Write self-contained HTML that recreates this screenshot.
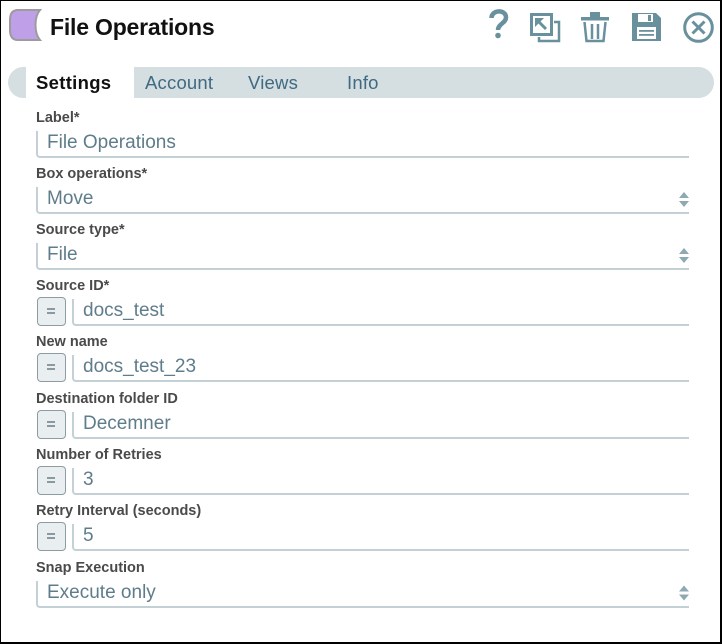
<!DOCTYPE html>
<html><head><meta charset="utf-8">
<style>
*{margin:0;padding:0;box-sizing:border-box}
html,body{width:722px;height:644px;background:#fff;overflow:hidden}
body{position:relative;font-family:"Liberation Sans",Arial,sans-serif}
#frame{position:absolute;left:0;top:0;width:722px;height:644px;border-top:1px solid #000;border-left:1px solid #000;border-right:2px solid #000;border-bottom:2px solid #000}
.abs{position:absolute;white-space:nowrap}
.title{left:50px;top:16px;font-size:23px;line-height:23px;font-weight:bold;color:#111;letter-spacing:-0.2px}
.tabbar{left:8px;top:67px;width:706px;height:31px;background:#d5dee1;border-radius:16px}
.tabsel{left:26px;top:67px;width:108px;height:31px;background:#fff}
.tab{top:74px;font-size:18.5px;line-height:18px;color:#3f6a82;letter-spacing:0.2px}
.lbl{font-size:14.5px;line-height:14.5px;font-weight:bold;color:#4a4a4a}
.inp{border-left:2px solid #c3d0d5;border-bottom:2px solid #c3d0d5;border-bottom-left-radius:4px;height:27px}
.val{font-size:19px;line-height:19px;color:#5f7c8a}
.eq{width:29px;height:29px;left:37px;background:#e9eff1;border:1.5px solid #8d9ca2;border-radius:4px}
.eq:before,.eq:after{content:"";position:absolute;left:9px;width:8px;height:1.5px;background:#8a999f}
.eq:before{top:10px}.eq:after{top:14px}
</style></head><body>
<div id="frame"></div>

<svg class="abs" style="left:0;top:0" width="722" height="60" viewBox="0 0 722 60">
  <path d="M18 10 L40 10 C34 17 34 33 40 40 L18 40 C12 40 10 36 10 30 L10 20 C10 14 12 10 18 10 Z" fill="#bf9fe8" stroke="#9c9c9c" stroke-width="2"/>
  <g fill="none" stroke="#68909d" stroke-width="4.5" stroke-linecap="butt">
    <path d="M491.5 18 C491.5 9.5 506 9 506 17.5 C506 23 498 24 498 30"/>
  </g>
  <circle cx="498" cy="35.5" r="2.8" fill="#68909d"/>
  <g fill="none" stroke="#68909d">
    <rect x="531.5" y="14.5" width="20" height="20" stroke-width="3"/>
    <polyline points="554,22 559,22 559,41 539,41 539,37" stroke-width="2.5"/>
    <line x1="546" y1="29" x2="538" y2="21" stroke-width="3"/>
  </g>
  <polygon points="535,18 544,18 535,27" fill="#68909d"/>
  <g fill="#68909d">
    <rect x="581" y="17" width="28" height="3.5"/>
    <rect x="590" y="12" width="10" height="6"/>
  </g>
  <g fill="none" stroke="#68909d" stroke-width="2.5">
    <path d="M584.5 22 L586.5 41 L603.5 41 L605.5 22"/>
    <line x1="592" y1="24" x2="592" y2="39"/>
    <line x1="598" y1="24" x2="598" y2="39"/>
  </g>
  <path d="M632 13 L656 13 L661 18 L661 41 L632 41 Z" fill="#68909d"/>
  <rect x="638" y="14" width="15" height="8" fill="#fff"/>
  <rect x="648" y="15" width="3" height="6" fill="#68909d"/>
  <rect x="637" y="27" width="19" height="12" fill="#fff"/>
  <rect x="639" y="30" width="15" height="1.8" fill="#68909d"/>
  <rect x="639" y="34" width="15" height="1.8" fill="#68909d"/>
  <g fill="none" stroke="#68909d" stroke-width="3">
    <circle cx="698.5" cy="27.5" r="13.8"/>
    <line x1="692.5" y1="21.5" x2="704.5" y2="33.5"/>
    <line x1="704.5" y1="21.5" x2="692.5" y2="33.5"/>
  </g>
</svg>

<div class="abs title">File Operations</div>

<div class="abs tabbar"></div>
<div class="abs tabsel"></div>
<div class="abs tab" style="left:36px;color:#111;font-weight:bold;letter-spacing:0.3px">Settings</div>
<div class="abs tab" style="left:145px">Account</div>
<div class="abs tab" style="left:248px">Views</div>
<div class="abs tab" style="left:347px">Info</div>

<!-- Row 0 -->
<div class="abs lbl" style="left:36px;top:111px">Label*</div>
<div class="abs inp" style="left:36px;top:131px;width:653px"></div>
<div class="abs val" style="left:47px;top:133px">File Operations</div>

<!-- Row 1 -->
<div class="abs lbl" style="left:36px;top:167px">Box operations*</div>
<div class="abs inp" style="left:36px;top:187px;width:653px"></div>
<div class="abs val" style="left:47px;top:189px">Move</div>

<!-- Row 2 -->
<div class="abs lbl" style="left:36px;top:223px">Source type*</div>
<div class="abs inp" style="left:36px;top:243px;width:653px"></div>
<div class="abs val" style="left:47px;top:245px">File</div>

<!-- Row 3 -->
<div class="abs lbl" style="left:36px;top:279px">Source ID*</div>
<div class="abs eq" style="top:297px"></div>
<div class="abs inp" style="left:72px;top:299px;width:617px"></div>
<div class="abs val" style="left:83px;top:301px">docs_test</div>

<!-- Row 4 -->
<div class="abs lbl" style="left:36px;top:335px">New name</div>
<div class="abs eq" style="top:353px"></div>
<div class="abs inp" style="left:72px;top:355px;width:617px"></div>
<div class="abs val" style="left:83px;top:357px">docs_test_23</div>

<!-- Row 5 -->
<div class="abs lbl" style="left:36px;top:392px">Destination folder ID</div>
<div class="abs eq" style="top:410px"></div>
<div class="abs inp" style="left:72px;top:412px;width:617px"></div>
<div class="abs val" style="left:83px;top:414px">Decemner</div>

<!-- Row 6 -->
<div class="abs lbl" style="left:36px;top:448px">Number of Retries</div>
<div class="abs eq" style="top:466px"></div>
<div class="abs inp" style="left:72px;top:468px;width:617px"></div>
<div class="abs val" style="left:83px;top:470px">3</div>

<!-- Row 7 -->
<div class="abs lbl" style="left:36px;top:504px">Retry Interval (seconds)</div>
<div class="abs eq" style="top:522px"></div>
<div class="abs inp" style="left:72px;top:524px;width:617px"></div>
<div class="abs val" style="left:83px;top:526px">5</div>

<!-- Row 8 -->
<div class="abs lbl" style="left:36px;top:561px">Snap Execution</div>
<div class="abs inp" style="left:36px;top:581px;width:653px"></div>
<div class="abs val" style="left:47px;top:583px">Execute only</div>

<!-- select arrows -->
<svg class="abs" style="left:0;top:0" width="722" height="644" viewBox="0 0 722 644">
  <g fill="#8fa9b3">
    <polygon points="684,192 689,198 679,198"/><polygon points="679,201 689,201 684,207"/>
    <polygon points="684,248 689,254 679,254"/><polygon points="679,257 689,257 684,263"/>
    <polygon points="684,585.5 689,591.5 679,591.5"/><polygon points="679,594.5 689,594.5 684,600.5"/>
  </g>
</svg>
</body></html>
